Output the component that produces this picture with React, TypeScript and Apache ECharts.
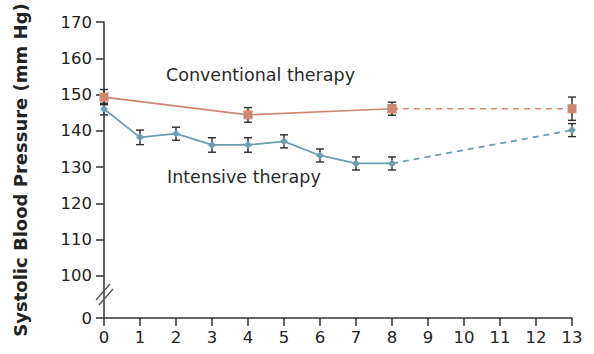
import React, { useEffect, useRef } from "react";
import * as echarts from "echarts";

const months = [0, 1, 2, 3, 4, 5, 6, 7, 8, 9, 10, 11, 12, 13];
const convX = [0, 4, 8, 13];
const convY = [149.3, 144.4, 146.1, 146.1];
const convErr = [2.1, 2.0, 1.8, 3.2];
const intX = [0, 1, 2, 3, 4, 5, 6, 7, 8, 13];
const intY = [146.0, 138.2, 139.2, 136.1, 136.1, 137.1, 133.2, 131.0, 131.0, 140.2];
const intErr = [1.6, 2.0, 1.8, 2.0, 2.0, 1.8, 1.8, 1.8, 1.8, 1.8];
// position where the broken axis shows "0"
const ZERO_POS = 88.4;
const yTickValues = [ZERO_POS, 100, 110, 120, 130, 140, 150, 160, 170];
const yTickLabels = ["0", "100", "110", "120", "130", "140", "150", "160", "170"];
const yTitle = "Systolic Blood Pressure (mm Hg)";
const convLabel = "Conventional therapy";
const intLabel = "Intensive therapy";

const CONV = "#cf8670";
const INT = "#6e9db2";
const AXIS = "#333333";
const FONT = "DejaVu Sans";

function split(xs: number[], ys: number[], cut: number) {
  const solid: number[][] = [];
  const dashed: number[][] = [];
  xs.forEach((x, i) => {
    if (x <= cut) solid.push([x, ys[i]]);
    if (x >= cut) dashed.push([x, ys[i]]);
  });
  return { solid, dashed };
}

export default function App() {
  const ref = useRef<HTMLDivElement>(null);
  useEffect(() => {
    if (!ref.current) return;
    const chart = echarts.init(ref.current, undefined, { renderer: "svg" });
    const conv = split(convX, convY, 8);
    const int = split(intX, intY, 8);
    const errData = (xs: number[], ys: number[], es: number[]) =>
      xs.map((x, i) => [x, ys[i] - es[i], ys[i] + es[i]]);
    const renderErr = (params: any, api: any) => {
      const x = api.value(0);
      const p1 = api.coord([x, api.value(1)]);
      const p2 = api.coord([x, api.value(2)]);
      const w = 4;
      const style = { stroke: "#2b2b2b", lineWidth: 1.4 };
      return {
        type: "group",
        children: [
          { type: "line", shape: { x1: p1[0], y1: p1[1], x2: p2[0], y2: p2[1] }, style },
          { type: "line", shape: { x1: p1[0] - w, y1: p1[1], x2: p1[0] + w, y2: p1[1] }, style },
          { type: "line", shape: { x1: p2[0] - w, y1: p2[1], x2: p2[0] + w, y2: p2[1] }, style },
        ],
      };
    };
    chart.setOption({
      animation: false,
      grid: { left: 104, right: 22, top: 22, bottom: 36 },
      xAxis: {
        type: "value",
        min: 0,
        max: 13,
        interval: 1,
        splitLine: { show: false },
        axisLine: { lineStyle: { color: AXIS, width: 1.5 } },
        axisTick: { length: 8, lineStyle: { color: AXIS, width: 1.5 } },
        axisLabel: {
          color: "#222",
          fontFamily: FONT,
          fontSize: 16.5,
          margin: 11,
          formatter: (v: number) => (months.includes(v) ? String(v) : ""),
        },
      },
      yAxis: {
        type: "value",
        min: ZERO_POS,
        max: 170,
        name: yTitle,
        nameLocation: "middle",
        nameGap: 75,
        nameTextStyle: { fontFamily: FONT, fontSize: 18, fontWeight: "bold", color: "#222" },
        splitLine: { show: false },
        axisLine: { show: true, lineStyle: { color: AXIS, width: 1.5 } },
        axisTick: { show: true, length: 8, customValues: yTickValues, lineStyle: { color: AXIS, width: 1.5 } },
        axisLabel: {
          customValues: yTickValues,
          color: "#222",
          fontFamily: FONT,
          fontSize: 16.5,
          margin: 12,
          formatter: (v: number) => {
            const i = yTickValues.findIndex((t) => Math.abs(t - v) < 0.01);
            return i >= 0 ? yTickLabels[i] : "";
          },
        },
      },
      series: [
        {
          type: "custom",
          renderItem: renderErr,
          data: errData(convX, convY, convErr),
          z: 1,
        },
        {
          type: "custom",
          renderItem: renderErr,
          data: errData(intX, intY, intErr),
          z: 1,
        },
        {
          type: "line",
          data: conv.solid,
          symbol: "rect",
          symbolSize: 9,
          itemStyle: { color: CONV },
          lineStyle: { color: CONV, width: 1.6 },
          z: 3,
        },
        {
          type: "line",
          data: conv.dashed,
          symbol: "rect",
          symbolSize: 9,
          itemStyle: { color: CONV },
          lineStyle: { color: CONV, width: 1.6, type: [6, 5] },
          z: 3,
        },
        {
          type: "line",
          data: int.solid,
          symbol: "diamond",
          symbolSize: 8,
          itemStyle: { color: INT },
          lineStyle: { color: INT, width: 1.8 },
          z: 3,
        },
        {
          type: "line",
          data: int.dashed,
          symbol: "diamond",
          symbolSize: 8,
          itemStyle: { color: INT },
          lineStyle: { color: INT, width: 1.8, type: [6, 5] },
          z: 3,
        },
      ],
      graphic: [
        {
          type: "text",
          left: 166,
          top: 66,
          style: { text: convLabel, fontFamily: FONT, fontSize: 17.5, fill: "#2a2a2a" },
        },
        {
          type: "text",
          left: 167,
          top: 168,
          style: { text: intLabel, fontFamily: FONT, fontSize: 17.5, fill: "#2a2a2a" },
        },
        {
          type: "line",
          shape: { x1: 96, y1: 300, x2: 110, y2: 284 },
          style: { stroke: "#555", lineWidth: 1.4 },
          z: 51,
        },
        {
          type: "line",
          shape: { x1: 99, y1: 305, x2: 113, y2: 289 },
          style: { stroke: "#555", lineWidth: 1.4 },
          z: 51,
        },
      ],
    });
    return () => chart.dispose();
  }, []);
  return <div ref={ref} style={{ width: 594, height: 354, position: "absolute", left: 0, top: 0 }} />;
}
